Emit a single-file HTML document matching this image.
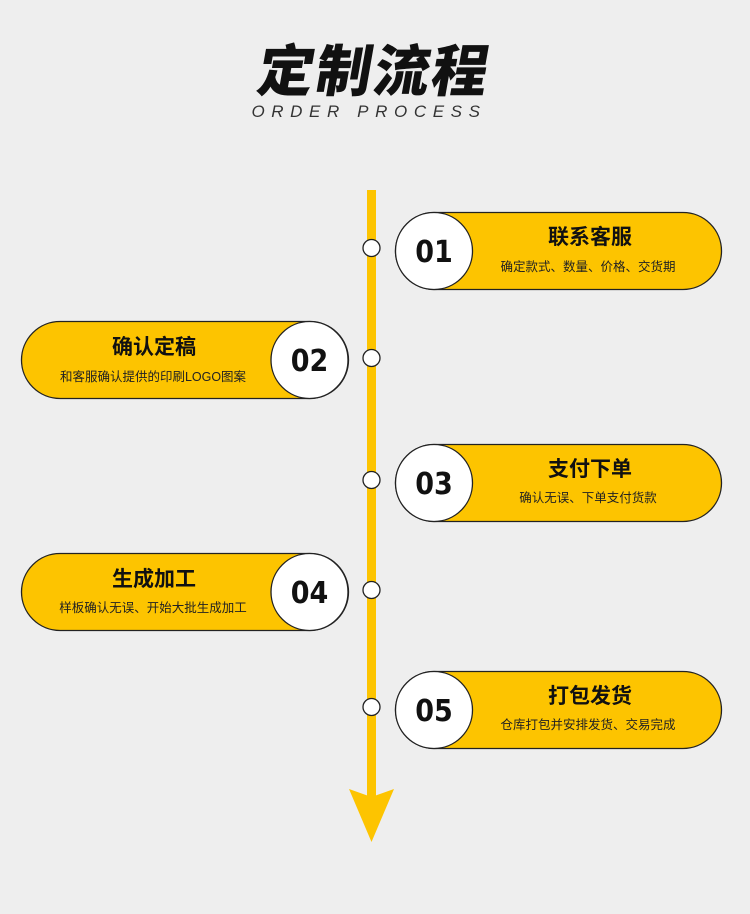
<!DOCTYPE html>
<html><head><meta charset="utf-8"><style>
body{margin:0;background:#eeeeee;}
svg{display:block}
</style></head><body>
<svg width="750" height="914" xmlns="http://www.w3.org/2000/svg" font-family="'Liberation Sans','Noto Sans CJK SC',sans-serif">
<rect width="750" height="914" fill="#eeeeee"/>
<text x="372" y="91" text-anchor="middle" font-size="56" font-weight="900" fill="#111" transform="skewX(-10) translate(15,0)" font-family="'Noto Sans CJK SC',sans-serif" letter-spacing="2">定制流程</text>
<text x="369" y="117" text-anchor="middle" font-size="17" fill="#333" font-style="italic" letter-spacing="6.6">ORDER PROCESS</text>
<rect x="367" y="190" width="9" height="610" fill="#fdc400"/>
<polygon points="349,789 371.5,797 394,789 371.5,842" fill="#fdc400"/>
<g stroke="#222" stroke-width="1.3">
<rect x="395.5" y="212.5" width="326" height="77" rx="38.5" fill="#fdc400"/>
<circle cx="434" cy="251" r="38.5" fill="#fff"/>
<rect x="21.5" y="321.5" width="327" height="77" rx="38.5" fill="#fdc400"/>
<circle cx="309.5" cy="360" r="38.5" fill="#fff"/>
<rect x="395.5" y="444.5" width="326" height="77" rx="38.5" fill="#fdc400"/>
<circle cx="434" cy="483" r="38.5" fill="#fff"/>
<rect x="21.5" y="553.5" width="327" height="77" rx="38.5" fill="#fdc400"/>
<circle cx="309.5" cy="592" r="38.5" fill="#fff"/>
<rect x="395.5" y="671.5" width="326" height="77" rx="38.5" fill="#fdc400"/>
<circle cx="434" cy="710" r="38.5" fill="#fff"/>
<circle cx="371.5" cy="248" r="8.5" fill="#fff"/>
<circle cx="371.5" cy="358" r="8.5" fill="#fff"/>
<circle cx="371.5" cy="480" r="8.5" fill="#fff"/>
<circle cx="371.5" cy="590" r="8.5" fill="#fff"/>
<circle cx="371.5" cy="707" r="8.5" fill="#fff"/>
</g>
<g font-size="30" font-weight="bold" fill="#111" text-anchor="middle" font-family="'Liberation Sans Narrow','DejaVu Sans Condensed',sans-serif">
<text x="434" y="262">01</text>
<text x="309.5" y="371">02</text>
<text x="434" y="494">03</text>
<text x="309.5" y="603">04</text>
<text x="434" y="721">05</text>
</g>
<g font-size="21" font-weight="bold" fill="#111" text-anchor="middle">
<text x="590" y="244">联系客服</text>
<text x="154" y="354">确认定稿</text>
<text x="590" y="476">支付下单</text>
<text x="154" y="586">生成加工</text>
<text x="590" y="703">打包发货</text>
</g>
<g font-size="12.5" fill="#222" text-anchor="middle">
<text x="588" y="271">确定款式、数量、价格、交货期</text>
<text x="153" y="381">和客服确认提供的印刷LOGO图案</text>
<text x="588" y="502">确认无误、下单支付货款</text>
<text x="153" y="612">样板确认无误、开始大批生成加工</text>
<text x="588" y="729">仓库打包并安排发货、交易完成</text>
</g>
</svg>
</body></html>
